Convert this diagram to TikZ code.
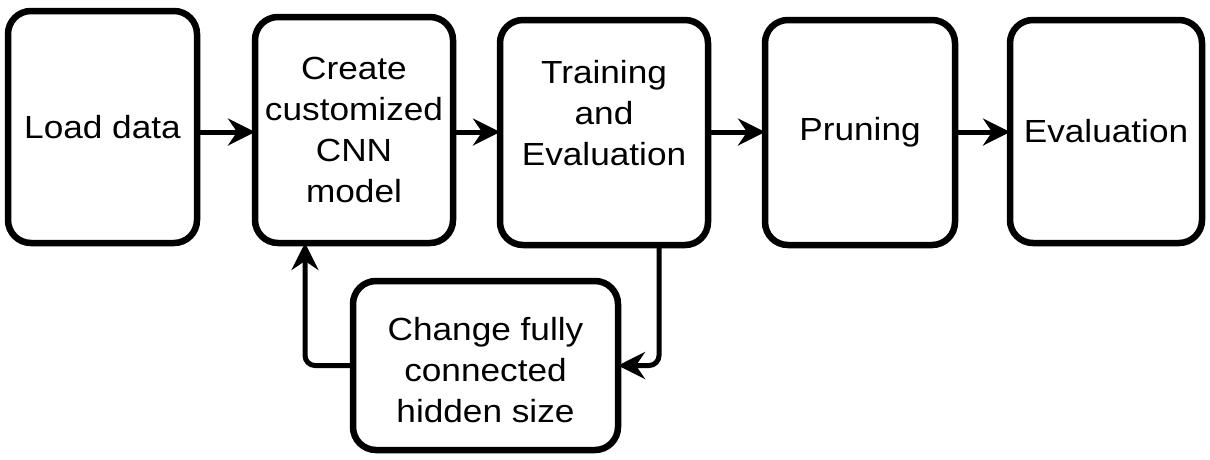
\documentclass[tikz,border=0pt]{standalone}
\usepackage{fontspec}
\setmainfont{Liberation Sans}[FakeStretch=1.1]
\usetikzlibrary{arrows.meta}
\begin{document}
\begin{tikzpicture}[x=1pt,y=-1pt,
  box/.style={draw=black,line width=6.5pt,rounded corners=23pt,fill=white,
    outer sep=0pt,align=center,font=\fontsize{32}{41}\selectfont,inner sep=0pt},
  lbl/.style={align=center,font=\fontsize{32}{41}\selectfont,inner sep=0pt},
  arr/.style={line width=5pt,-{Stealth[length=27pt,width=27pt,inset=9pt]}},
  loop/.style={arr,rounded corners=10pt}]
\useasboundingbox (0,0) rectangle (1210,459);
\node[box,minimum width=189pt,minimum height=232pt] (b1) at (102.5,127) {Load data};
\node[box,minimum width=198pt,minimum height=226pt] (b2) at (354,130) {Create\\customized\\CNN\\model};
\node[box,minimum width=208pt,minimum height=225pt] (b3) at (604,132.5) {};
\node[lbl] (t3) at (604,113) {Training\\and\\Evaluation};
\node[box,minimum width=190pt,minimum height=225pt] (b4) at (860,132.5) {Pruning};
\node[box,minimum width=192pt,minimum height=223pt] (b5) at (1106,131.5) {Evaluation};
\node[box,minimum width=265pt,minimum height=169pt] (ch) at (485.5,365.5) {};
\node[lbl] (tc) at (485.5,370) {Change fully\\connected\\hidden size};
\coordinate (ay) at (0,132);
\coordinate (rx) at (659,0);
\coordinate (lx) at (305,0);
\draw[arr] (b1.east |- ay) -- (b2.west |- ay);
\draw[arr] (b2.east |- ay) -- (b3.west |- ay);
\draw[arr] (b3.east |- ay) -- (b4.west |- ay);
\draw[arr] (b4.east |- ay) -- (b5.west |- ay);
\draw[loop] (rx |- b3.south) -- (rx |- ch.east) -- (ch.east);
\draw[loop] (ch.west) -- (lx |- ch.west) -- (lx |- b2.south);
\end{tikzpicture}
\end{document}
